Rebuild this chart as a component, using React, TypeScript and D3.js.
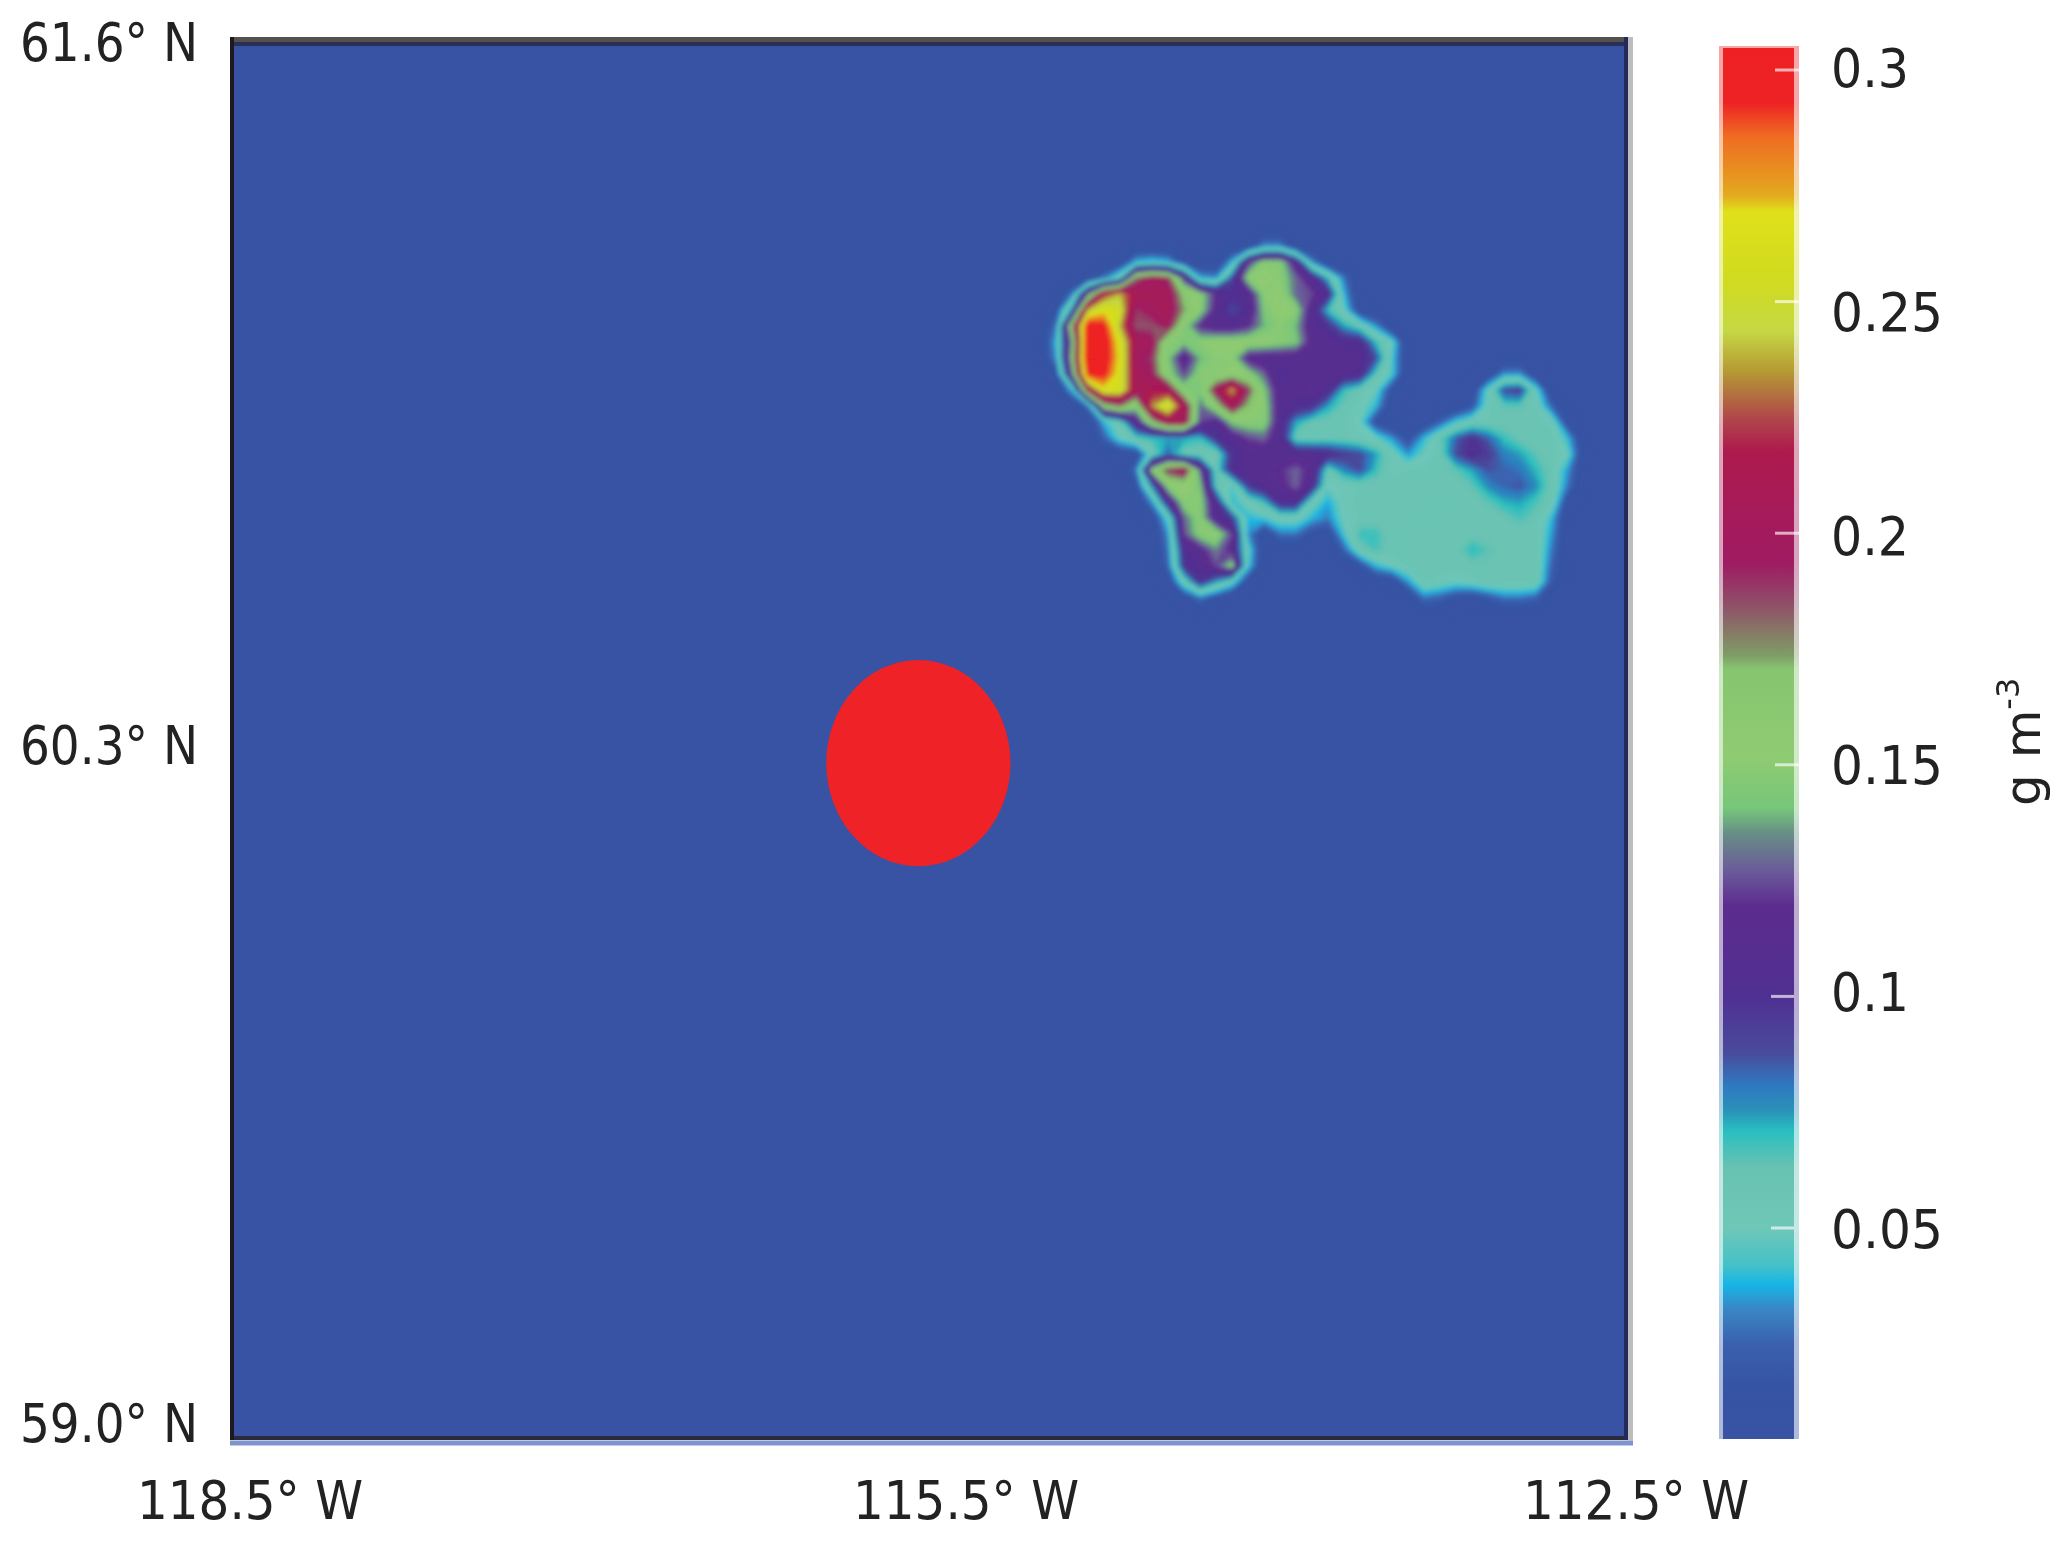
import React from "react";
import * as d3 from "d3";

const width = 2067;
const height = 1544;

// colour bar, value -> colour
const colorValues = [
  0.005, 0.0156, 0.025, 0.0324, 0.0377, 0.042, 0.05, 0.063, 0.071, 0.0755, 0.0806, 0.088, 0.1, 0.1196,
  0.127, 0.1353, 0.1405, 0.1517, 0.1707, 0.1737, 0.185, 0.1935, 0.2177, 0.225, 0.235, 0.2437, 0.2543,
  0.2694, 0.273, 0.2856, 0.293, 0.305,
];
const colorHexes = [
  "#3853a3", "#3653a4", "#3a60ae", "#3a86c4", "#17b4e6", "#45c1c8", "#6fc7b8", "#68c2b2", "#28bfc0", "#2a91b8",
  "#2d7ac0", "#4a4a9c", "#4f3092", "#5d2c8e", "#6a5a9a", "#678f85", "#76c67a", "#8fcb72", "#86c56f", "#7f9c66",
  "#8f4d68", "#9f1b63", "#ad1a4d", "#b0484a", "#b59a33", "#c5d843", "#d0db20", "#dfe01a", "#e3a91f", "#ef6c22",
  "#ed2224", "#ee2024",
];
const colorTicks = [0.05, 0.1, 0.15, 0.2, 0.25, 0.3];
const colorTickLabels = ["0.05", "0.1", "0.15", "0.2", "0.25", "0.3"];

const latTicks = [61.6, 60.3, 59.0];
const latLabels = ["61.6° N", "60.3° N", "59.0° N"];
const lonTicks = [-118.5, -115.5, -112.5];
const lonLabels = ["118.5° W", "115.5° W", "112.5° W"];

// red disc
const discLon = -115.55;
const discLat = 60.256;
const discLonRadius = 0.396;
const discLatRadius = 0.192;

// smoke field, g m-3 x 1000, sampled every 16px over the upper right part of the map
const smoke = [
  [5, 5, 5, 5, 5, 5, 5, 5, 5, 5, 5, 5, 5, 5, 5, 5, 5, 5, 5, 5, 5, 5, 5, 5, 5, 5, 5, 5, 5, 5, 5, 5, 5, 5, 5],
  [5, 5, 5, 5, 5, 5, 5, 5, 5, 5, 5, 5, 5, 5, 35, 35, 5, 5, 5, 5, 5, 5, 5, 5, 5, 5, 5, 5, 5, 5, 5, 5, 5, 5, 5],
  [5, 5, 5, 5, 5, 8, 40, 45, 40, 15, 5, 5, 40, 120, 150, 150, 110, 35, 5, 5, 5, 5, 5, 5, 5, 5, 5, 5, 5, 5, 5, 5, 5, 5, 5],
  [5, 5, 5, 5, 30, 60, 180, 200, 190, 120, 40, 35, 90, 150, 155, 150, 130, 110, 70, 30, 5, 5, 5, 5, 5, 5, 5, 5, 5, 5, 5, 5, 5, 5, 5],
  [5, 5, 30, 130, 220, 240, 210, 205, 205, 165, 150, 120, 105, 110, 150, 155, 130, 125, 105, 40, 5, 5, 5, 5, 5, 5, 5, 5, 5, 5, 5, 5, 5, 5, 5],
  [5, 15, 80, 240, 265, 255, 190, 200, 205, 175, 150, 115, 90, 105, 145, 155, 150, 110, 70, 50, 10, 5, 5, 5, 5, 5, 5, 5, 5, 5, 5, 5, 5, 5, 5],
  [5, 30, 170, 310, 300, 240, 185, 185, 200, 150, 120, 110, 110, 120, 140, 150, 140, 110, 100, 75, 60, 35, 5, 5, 5, 5, 5, 5, 5, 5, 5, 5, 5, 5, 5],
  [5, 40, 140, 320, 310, 260, 205, 200, 150, 145, 150, 155, 155, 155, 155, 150, 145, 115, 110, 105, 105, 70, 50, 5, 5, 5, 5, 5, 5, 5, 5, 5, 5, 5, 5],
  [5, 35, 150, 320, 310, 265, 200, 190, 145, 110, 140, 150, 150, 115, 110, 110, 110, 110, 110, 110, 110, 90, 45, 5, 5, 5, 5, 5, 5, 5, 5, 5, 5, 5, 5],
  [5, 15, 130, 300, 300, 260, 205, 195, 150, 125, 150, 150, 155, 150, 130, 100, 110, 110, 110, 110, 105, 65, 45, 5, 5, 5, 5, 5, 10, 35, 35, 10, 5, 5, 5],
  [5, 5, 40, 200, 265, 260, 205, 215, 210, 150, 145, 200, 240, 190, 145, 110, 110, 115, 105, 70, 60, 50, 15, 5, 5, 5, 5, 10, 50, 90, 95, 50, 5, 5, 5],
  [5, 5, 5, 30, 160, 180, 150, 235, 265, 210, 130, 160, 205, 170, 150, 110, 105, 100, 75, 62, 55, 40, 8, 5, 5, 5, 5, 20, 55, 65, 65, 58, 25, 5, 5],
  [5, 5, 5, 5, 40, 60, 110, 165, 205, 205, 125, 110, 145, 150, 150, 110, 75, 62, 60, 58, 50, 15, 5, 5, 10, 25, 45, 55, 58, 60, 60, 60, 55, 12, 5],
  [5, 5, 5, 5, 25, 50, 65, 70, 75, 75, 70, 100, 110, 125, 130, 110, 60, 58, 60, 60, 55, 50, 35, 15, 40, 62, 85, 100, 85, 70, 62, 58, 60, 40, 5],
  [5, 5, 5, 5, 5, 10, 12, 55, 85, 60, 58, 55, 100, 110, 110, 110, 110, 110, 105, 95, 90, 75, 55, 35, 50, 60, 90, 105, 95, 80, 75, 65, 60, 50, 8],
  [5, 5, 5, 5, 5, 5, 30, 150, 190, 205, 130, 60, 105, 110, 110, 120, 130, 115, 60, 80, 90, 70, 55, 58, 58, 60, 65, 75, 88, 85, 82, 72, 60, 35, 5],
  [5, 5, 5, 5, 5, 5, 15, 80, 150, 155, 145, 65, 45, 95, 110, 115, 130, 105, 50, 55, 58, 60, 60, 60, 62, 60, 60, 65, 78, 85, 88, 78, 60, 30, 5],
  [5, 5, 5, 5, 5, 5, 5, 35, 105, 150, 150, 105, 40, 55, 70, 105, 105, 55, 38, 55, 60, 60, 62, 62, 60, 58, 60, 60, 65, 73, 75, 68, 58, 10, 5],
  [5, 5, 5, 5, 5, 5, 5, 10, 50, 130, 150, 110, 95, 40, 45, 55, 55, 40, 32, 52, 58, 60, 60, 60, 58, 60, 60, 60, 60, 62, 68, 62, 40, 5, 5],
  [5, 5, 5, 5, 5, 5, 5, 5, 35, 125, 150, 155, 125, 35, 8, 30, 30, 15, 10, 45, 70, 70, 58, 60, 60, 60, 60, 62, 60, 60, 60, 60, 35, 5, 5],
  [5, 5, 5, 5, 5, 5, 5, 5, 30, 105, 115, 135, 115, 50, 5, 5, 5, 5, 5, 25, 58, 68, 60, 60, 60, 60, 60, 72, 66, 60, 60, 60, 30, 5, 5],
  [5, 5, 5, 5, 5, 5, 5, 5, 25, 100, 110, 125, 150, 45, 5, 5, 5, 5, 5, 5, 15, 40, 50, 58, 60, 60, 60, 62, 62, 60, 60, 60, 25, 5, 5],
  [5, 5, 5, 5, 5, 5, 5, 5, 10, 55, 100, 75, 50, 12, 5, 5, 5, 5, 5, 5, 5, 5, 8, 35, 60, 55, 50, 55, 60, 60, 60, 58, 20, 5, 5],
  [5, 5, 5, 5, 5, 5, 5, 5, 5, 12, 30, 15, 5, 5, 5, 5, 5, 5, 5, 5, 5, 5, 5, 5, 30, 25, 15, 10, 20, 30, 30, 25, 5, 5, 5],
  [5, 5, 5, 5, 5, 5, 5, 5, 5, 5, 5, 5, 5, 5, 5, 5, 5, 5, 5, 5, 5, 5, 5, 5, 5, 5, 5, 5, 5, 5, 5, 5, 5, 5, 5],
];

// map frame
const mapLeft = 232;
const mapRight = 1628;
const mapTop = 41;
const mapBottom = 1438;

const lonScale = d3.scaleLinear().domain([-118.5, -112.5]).range([mapLeft, mapRight]);
const latScale = d3.scaleLinear().domain([59, 61.6]).range([mapBottom, mapTop]);

// grid nodes of the smoke field sit at i + 0.5 in contour space
const gridX = d3.scaleLinear().domain([0.5, 34.5]).range([1040, 1584]);
const gridY = d3.scaleLinear().domain([0.5, 24.5]).range([230, 614]);

const color = d3
  .scaleLinear<string>()
  .domain(colorValues)
  .range(colorHexes)
  .interpolate(d3.interpolateRgb)
  .clamp(true);

const barScale = d3.scaleLinear().domain([0.05, 0.3]).range([1228, 70]);
const barTop = 46;
const barBottom = 1439;

export default function App() {
  const values = smoke.flat();
  const thresholds = d3.range(0.006, 0.322, 0.002).map((d) => d * 1000);
  const contours = d3.contours().size([35, 25]).thresholds(thresholds)(values);
  const path = d3.geoPath(
    d3.geoTransform({
      point(x, y) {
        this.stream.point(gridX(x), gridY(y));
      },
    })
  );

  // nudges because the labels in the source do not sit exactly on their ticks
  const barLabelNudge = [1, -5, 0, 2, 10, -2];
  const barLabelWidth = [112, 78, 112, 78, 112, 78];
  const lonLabelCentre = [250, 966, 1636];
  const latLabelY = [42, 745, 1423];
  const textStyle = { fontFamily: "'DejaVu Sans'", fontSize: 54, fill: "#222" };

  return (
    <svg
      width={width}
      height={height}
      viewBox={`0 0 ${width} ${height}`}
      style={{ position: "absolute", left: 0, top: 0, background: "#fff" }}
    >
      <defs>
        <linearGradient id="bar" x1="0" x2="0" y1={barBottom} y2={barTop} gradientUnits="userSpaceOnUse">
          {colorValues.map((v, i) => (
            <stop key={v} offset={(barBottom - barScale(v)) / (barBottom - barTop)} stopColor={colorHexes[i]} />
          ))}
        </linearGradient>
        <filter id="soft" x="-5%" y="-5%" width="110%" height="110%">
          <feGaussianBlur stdDeviation="2" />
        </filter>
        <filter id="softText" x="-5%" y="-20%" width="110%" height="140%">
          <feGaussianBlur stdDeviation="0.6" />
        </filter>
      </defs>

      {/* map */}
      <rect x={mapLeft} y={mapTop} width={mapRight - mapLeft} height={mapBottom - mapTop} fill={color(0.005)} />
      <g filter="url(#soft)">
        {contours.map((c) => (
          <path key={c.value} d={path(c) ?? ""} fill={color(c.value / 1000)} />
        ))}
      </g>
      <ellipse
        cx={lonScale(discLon)}
        cy={latScale(discLat)}
        rx={lonScale(discLon + discLonRadius) - lonScale(discLon)}
        ry={latScale(discLat) - latScale(discLat + discLatRadius)}
        fill="#ee2227"
      />

      {/* frame */}
      <line x1={230} x2={1633} y1={1443} y2={1443} stroke="#7f93cf" strokeWidth={5} />
      <line x1={230} x2={1628} y1={1438} y2={1438} stroke="#2a2a38" strokeWidth={4} />
      <line x1={230} x2={1628} y1={44} y2={44} stroke="#2a2f55" strokeWidth={4} />
      <line x1={230} x2={1628} y1={39.5} y2={39.5} stroke="#554f4f" strokeWidth={5} />
      <line x1={232} x2={232} y1={37} y2={1440} stroke="#1c1a1c" strokeWidth={4} />
      <line x1={1626} x2={1626} y1={37} y2={1440} stroke="#25285a" strokeWidth={4} />
      <line x1={1630.5} x2={1630.5} y1={37} y2={1441} stroke="#bdbdbd" strokeWidth={5} />

      {/* map labels */}
      <g filter="url(#softText)" style={textStyle}>
        {latTicks.map((t, i) => (
          <text key={t} x={20} y={latLabelY[i]} dy="0.36em" textLength={178} lengthAdjust="spacingAndGlyphs">
            {latLabels[i]}
          </text>
        ))}
        {lonTicks.map((t, i) => (
          <text
            key={t}
            x={lonLabelCentre[i] - 113}
            y={1500}
            dy="0.36em"
            textLength={226}
            lengthAdjust="spacingAndGlyphs"
          >
            {lonLabels[i]}
          </text>
        ))}
      </g>

      {/* colour bar */}
      <rect x={1719} y={barTop} width={80} height={barBottom - barTop} fill="url(#bar)" opacity={0.4} />
      <rect x={1723} y={barTop + 2} width={71} height={barBottom - barTop - 2} fill="url(#bar)" />
      {colorTicks.map((t) => (
        <line
          key={t}
          x1={t < 0.12 ? 1771 : 1775}
          x2={t < 0.12 ? 1794 : 1799}
          y1={barScale(t)}
          y2={barScale(t)}
          stroke="#fff"
          strokeOpacity={0.65}
          strokeWidth={3}
        />
      ))}
      <g filter="url(#softText)" style={textStyle}>
        {colorTicks.map((t, i) => (
          <text
            key={t}
            x={1831}
            y={barScale(t) + barLabelNudge[i]}
            dy="0.36em"
            textLength={barLabelWidth[i]}
            lengthAdjust="spacingAndGlyphs"
          >
            {colorTickLabels[i]}
          </text>
        ))}
        <text transform="translate(2040,806) rotate(-90)" style={{ fontSize: 50 }}>
          g m
          <tspan style={{ fontSize: 32 }} dy={-21}>
            -3
          </tspan>
        </text>
      </g>
    </svg>
  );
}
